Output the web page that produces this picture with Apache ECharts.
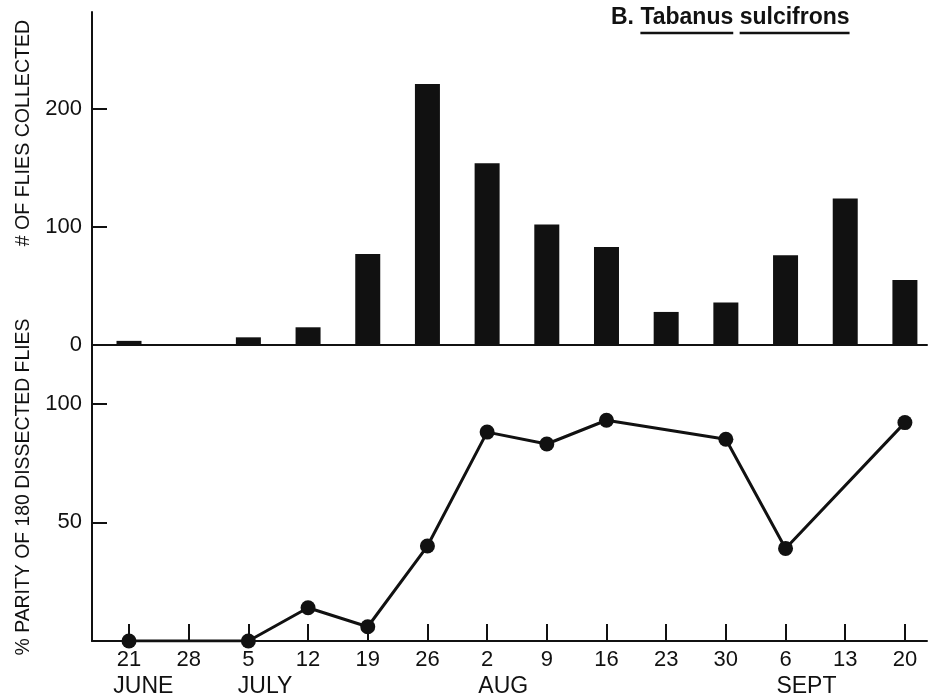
<!DOCTYPE html>
<html>
<head>
<meta charset="utf-8">
<script src="https://cdn.jsdelivr.net/npm/echarts@6/dist/echarts.min.js"></script>
<style>
  html, body { margin: 0; padding: 0; background: #ffffff; }
  #chart { width: 930px; height: 700px; }
</style>
</head>
<body>
<div id="chart"></div>
<script>
// Weekly sampling dates (day of month), June 21 through Sept 20
const dayLabels = ['21', '28', '5', '12', '19', '26', '2', '9', '16', '23', '30', '6', '13', '20'];
const monthNames = ['JUNE', 'JULY', 'AUG', 'SEPT'];
const monthAnchors = [0.24, 2.28, 6.27, 11.35];   // where each month name sits along the date axis

// Number of flies collected each week
const fliesCollected = [3.5, null, 6.5, 15, 77, 221, 154, 102, 83, 28, 36, 76, 124, 55];
// Percent parity among dissected flies (null = no sample that week)
const parityPct = [0, null, 0, 14, 6, 40, 88, 83, 93, null, 85, 39, null, 92];

const countTicks = [0, 100, 200];
const parityTicks = [50, 100];
const dateTicks = dayLabels.map((_, i) => i);

const INK = '#111111';
const FONT = "'Liberation Sans', Arial, Helvetica, sans-serif";
const NARROW = "'Liberation Sans Narrow'";

// pick a font size so a rotated axis title spans the wanted length
const measureCtx = document.createElement('canvas').getContext('2d');
function textWidth(txt, size, family) {
  measureCtx.font = size + 'px ' + family;
  return measureCtx.measureText(txt).width;
}
const narrowAvailable = textWidth('COLLECTED', 40, NARROW + ', monospace') !== textWidth('COLLECTED', 40, 'monospace');
const nameFamily = narrowAvailable ? NARROW + ', ' + FONT : FONT;
function sizeFor(txt, span) {
  return Math.round(10 * span / textWidth(txt, 10, nameFamily) * 10) / 10;
}

const topName = '# OF FLIES COLLECTED';
const bottomName = '% PARITY OF 180 DISSECTED FLIES';

const xMin = -0.62, xMax = 13.37;

const chart = echarts.init(document.getElementById('chart'), null, { renderer: 'canvas' });

// Title with the species name underlined word by word
const titleSize = 23;
const titleFont = 'bold ' + titleSize + 'px ' + FONT;
measureCtx.font = titleFont;
const wPrefix = measureCtx.measureText('B. ').width;
const wGenus = measureCtx.measureText('Tabanus').width;
const wSpace = measureCtx.measureText(' ').width;
const wSpecies = measureCtx.measureText('sulcifrons').width;
const titleX = 611, titleY = 29;
const genusX = titleX + wPrefix;
const speciesX = genusX + wGenus + wSpace;

const valueAxisBase = {
  axisLine: { show: true, onZero: false, lineStyle: { color: INK, width: 2 } },
  splitLine: { show: false }
};

const option = {
  backgroundColor: '#ffffff',
  animation: false,
  grid: [
    { left: 92, right: 3, top: 12, bottom: 355 },
    { left: 92, right: 3, top: 345, bottom: 59 }
  ],
  xAxis: [
    Object.assign({}, valueAxisBase, {
      type: 'value', gridIndex: 0, min: xMin, max: xMax,
      axisTick: { show: false }, axisLabel: { show: false }
    }),
    Object.assign({}, valueAxisBase, {
      type: 'value', gridIndex: 1, min: xMin, max: xMax,
      axisTick: { show: true, inside: true, length: 17, customValues: dateTicks, lineStyle: { color: INK, width: 2 } },
      axisLabel: {
        customValues: dateTicks, margin: 8, color: INK, fontSize: 22, fontFamily: FONT,
        formatter: v => dayLabels[Math.round(v)]
      }
    }),
    {
      type: 'value', gridIndex: 1, min: xMin, max: xMax, position: 'bottom',
      axisLine: { show: false }, axisTick: { show: false }, splitLine: { show: false },
      axisLabel: {
        customValues: monthAnchors, margin: 34, color: INK, fontSize: 23, fontFamily: FONT,
        formatter: v => monthNames[monthAnchors.indexOf(v)]
      }
    }
  ],
  yAxis: [
    Object.assign({}, valueAxisBase, {
      type: 'value', gridIndex: 0, min: 0, max: 282,
      axisTick: { show: true, inside: true, length: 15, customValues: countTicks, lineStyle: { color: INK, width: 2 } },
      axisLabel: { customValues: countTicks, margin: 10, color: INK, fontSize: 22, fontFamily: FONT }
    }),
    Object.assign({}, valueAxisBase, {
      type: 'value', gridIndex: 1, min: 0, max: 124.7,
      axisTick: { show: true, inside: true, length: 15, customValues: parityTicks, lineStyle: { color: INK, width: 2 } },
      axisLabel: { customValues: parityTicks, margin: 10, color: INK, fontSize: 22, fontFamily: FONT }
    })
  ],
  series: [
    {
      name: 'Flies collected', type: 'bar', xAxisIndex: 0, yAxisIndex: 0,
      barWidth: 25,
      itemStyle: { color: INK },
      data: fliesCollected.map((v, i) => [i, v]).filter(d => d[1] !== null)
    },
    {
      name: 'Parity', type: 'line', xAxisIndex: 1, yAxisIndex: 1,
      connectNulls: true,
      symbol: 'circle', symbolSize: 15,
      lineStyle: { color: INK, width: 3 },
      itemStyle: { color: INK },
      data: parityPct.map((v, i) => [i, v]).filter(d => d[1] !== null)
    }
  ],
  graphic: [
    {
      type: 'text', silent: true,
      x: 24, y: 133, rotation: Math.PI / 2,
      style: { text: topName, fill: INK, font: sizeFor(topName, 227) + 'px ' + nameFamily, align: 'center', verticalAlign: 'middle' }
    },
    {
      type: 'text', silent: true,
      x: 24, y: 487, rotation: Math.PI / 2,
      style: { text: bottomName, fill: INK, font: sizeFor(bottomName, 337) + 'px ' + nameFamily, align: 'center', verticalAlign: 'middle' }
    },
    {
      type: 'text', silent: true, x: titleX, y: titleY,
      style: { text: 'B. Tabanus sulcifrons', fill: INK, font: titleFont, align: 'left', verticalAlign: 'bottom' }
    },
    {
      type: 'line', silent: true,
      shape: { x1: genusX, y1: 33, x2: genusX + wGenus, y2: 33 },
      style: { stroke: INK, lineWidth: 2.5 }
    },
    {
      type: 'line', silent: true,
      shape: { x1: speciesX, y1: 33, x2: speciesX + wSpecies, y2: 33 },
      style: { stroke: INK, lineWidth: 2.5 }
    }
  ]
};

chart.setOption(option);
</script>
</body>
</html>
